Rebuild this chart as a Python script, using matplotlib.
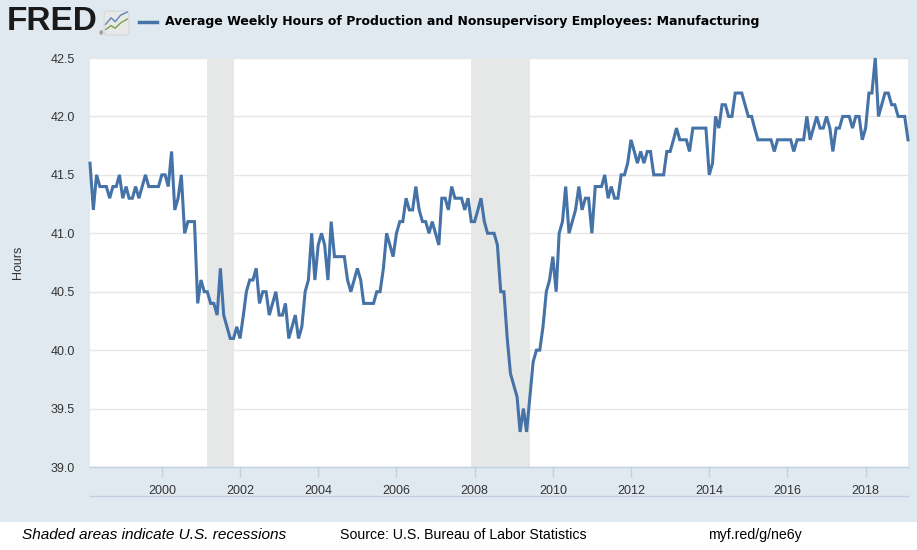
import numpy as np
import pandas as pd
import matplotlib.pyplot as plt
import matplotlib.dates as mdates
from matplotlib.patches import Rectangle, FancyBboxPatch

# Monthly data, Mar 1998 - Feb 2019 (hours)
start = '1998-03-01'
hours = [
    41.6, 41.2, 41.5, 41.4, 41.4, 41.4, 41.3, 41.4, 41.4, 41.5,              # 1998
    41.3, 41.4, 41.3, 41.3, 41.4, 41.3, 41.4, 41.5, 41.4, 41.4, 41.4, 41.4,  # 1999
    41.5, 41.5, 41.4, 41.7, 41.2, 41.3, 41.5, 41.0, 41.1, 41.1, 41.1, 40.4,  # 2000
    40.6, 40.5, 40.5, 40.4, 40.4, 40.3, 40.7, 40.3, 40.2, 40.1, 40.1, 40.2,  # 2001
    40.1, 40.3, 40.5, 40.6, 40.6, 40.7, 40.4, 40.5, 40.5, 40.3, 40.4, 40.5,  # 2002
    40.3, 40.3, 40.4, 40.1, 40.2, 40.3, 40.1, 40.2, 40.5, 40.6, 41.0, 40.6,  # 2003
    40.9, 41.0, 40.9, 40.6, 41.1, 40.8, 40.8, 40.8, 40.8, 40.6, 40.5, 40.6,  # 2004
    40.7, 40.6, 40.4, 40.4, 40.4, 40.4, 40.5, 40.5, 40.7, 41.0, 40.9, 40.8,  # 2005
    41.0, 41.1, 41.1, 41.3, 41.2, 41.2, 41.4, 41.2, 41.1, 41.1, 41.0, 41.1,  # 2006
    41.0, 40.9, 41.3, 41.3, 41.2, 41.4, 41.3, 41.3, 41.3, 41.2, 41.3, 41.1,  # 2007
    41.1, 41.2, 41.3, 41.1, 41.0, 41.0, 41.0, 40.9, 40.5, 40.5, 40.1, 39.8,  # 2008
    39.7, 39.6, 39.3, 39.5, 39.3, 39.6, 39.9, 40.0, 40.0, 40.2, 40.5, 40.6,  # 2009
    40.8, 40.5, 41.0, 41.1, 41.4, 41.0, 41.1, 41.2, 41.4, 41.2, 41.3, 41.3,  # 2010
    41.0, 41.4, 41.4, 41.4, 41.5, 41.3, 41.4, 41.3, 41.3, 41.5, 41.5, 41.6,  # 2011
    41.8, 41.7, 41.6, 41.7, 41.6, 41.7, 41.7, 41.5, 41.5, 41.5, 41.5, 41.7,  # 2012
    41.7, 41.8, 41.9, 41.8, 41.8, 41.8, 41.7, 41.9, 41.9, 41.9, 41.9, 41.9,  # 2013
    41.5, 41.6, 42.0, 41.9, 42.1, 42.1, 42.0, 42.0, 42.2, 42.2, 42.2, 42.1,  # 2014
    42.0, 42.0, 41.9, 41.8, 41.8, 41.8, 41.8, 41.8, 41.7, 41.8, 41.8, 41.8,  # 2015
    41.8, 41.8, 41.7, 41.8, 41.8, 41.8, 42.0, 41.8, 41.9, 42.0, 41.9, 41.9,  # 2016
    42.0, 41.9, 41.7, 41.9, 41.9, 42.0, 42.0, 42.0, 41.9, 42.0, 42.0, 41.8,  # 2017
    41.9, 42.2, 42.2, 42.5, 42.0, 42.1, 42.2, 42.2, 42.1, 42.1, 42.0, 42.0,  # 2018
    42.0, 41.8,                                                              # 2019
]
dates = pd.date_range(start, periods=len(hours), freq='MS')

recession_starts = ['2001-03-01', '2007-12-01']
recession_ends = ['2001-11-01', '2009-06-01']

yticks = [39.0, 39.5, 40.0, 40.5, 41.0, 41.5, 42.0, 42.5]
xtick_years = list(range(2000, 2019, 2))

title = 'Average Weekly Hours of Production and Nonsupervisory Employees: Manufacturing'
line_color = '#4572a7'
bg_color = '#e1e9f0'
sans = ['Liberation Sans', 'DejaVu Sans']

fig = plt.figure(figsize=(9.17, 5.5), dpi=100)
fig.patch.set_facecolor('white')

W, H = 917, 550
def fx(px):
    return px / W
def fy(py):
    return 1 - py / H

# blue-gray backdrop of the chart block
fig.add_artist(Rectangle((0, fy(522)), 1, 1 - fy(522), transform=fig.transFigure,
                         facecolor=bg_color, edgecolor='none', zorder=0))

ax = fig.add_axes([fx(90), fy(467), fx(908) - fx(90), fy(58) - fy(467)])
ax.set_facecolor('white')

for s, e in zip(recession_starts, recession_ends):
    ax.axvspan(pd.Timestamp(s), pd.Timestamp(e), color='#e6e7e7', lw=0, zorder=1)

ax.plot(dates, hours, color=line_color, lw=2.2, solid_joinstyle='miter',
        clip_on=False, zorder=3)

ax.set_xlim(dates[0], dates[-1])
ax.set_ylim(39.0, 42.5)
ax.set_yticks(yticks)
ax.set_yticklabels([f'{v:.1f}' for v in yticks])
ax.set_xticks([pd.Timestamp(f'{y}-01-01') for y in xtick_years])
ax.xaxis.set_major_formatter(mdates.DateFormatter('%Y'))
ax.grid(axis='y', color='#e6e6e6', lw=1, zorder=0)
ax.set_axisbelow(True)

for side in ['top', 'left', 'right']:
    ax.spines[side].set_visible(False)
ax.spines['bottom'].set_color('#c0d0e0')
ax.spines['bottom'].set_linewidth(1)

ax.tick_params(axis='y', length=0, pad=11, labelsize=9, labelcolor='#333333')
ax.tick_params(axis='x', length=7, width=1, color='#c0d0e0', pad=6,
               labelsize=9, labelcolor='#333333')
for lab in ax.get_xticklabels() + ax.get_yticklabels():
    lab.set_family(sans)

fig.text(fx(18), fy(262), 'Hours', rotation=90, ha='center', va='center',
         fontsize=9, color='#333333', family=sans)

# line under the axis block
fig.add_artist(plt.Line2D([fx(90), fx(908)], [fy(496), fy(496)], transform=fig.transFigure,
                          color='#c0d0e0', lw=1))

# header: FRED logo, icon and legend
fig.text(fx(7), fy(22), 'FRED', ha='left', va='center', fontsize=24, fontweight='bold',
         color='#1a1a1a', family=sans)
fig.text(fx(98), fy(34), '®', ha='left', va='center', fontsize=3.5, color='#1a1a1a')

icon = fig.add_axes([fx(103), fy(36), fx(27), 26 / H])
icon.set_xlim(0, 1)
icon.set_ylim(0, 1)
icon.axis('off')
icon.add_patch(FancyBboxPatch((0.04, 0.04), 0.92, 0.92, boxstyle='round,pad=0,rounding_size=0.12',
                              facecolor='#e8e8e8', edgecolor='#d0d0d0', lw=0.6))
icon.plot([0.1, 0.3, 0.45, 0.65, 0.9], [0.45, 0.7, 0.55, 0.8, 0.92], color='#5b87b5', lw=1)
icon.plot([0.1, 0.3, 0.45, 0.65, 0.9], [0.25, 0.4, 0.3, 0.5, 0.65], color='#7aa34a', lw=1)

fig.add_artist(plt.Line2D([fx(139), fx(157)], [fy(22), fy(22)], transform=fig.transFigure,
                          color=line_color, lw=2.5))
fig.text(fx(165), fy(22), title, ha='left', va='center', fontsize=9.0, fontweight='bold',
         color='#000000', family='DejaVu Sans')

# footer
fig.text(fx(22), fy(535), 'Shaded areas indicate U.S. recessions', ha='left', va='center',
         fontsize=11.1, style='italic', family=sans)
fig.text(fx(340), fy(535), 'Source: U.S. Bureau of Labor Statistics', ha='left', va='center',
         fontsize=10.2, family=sans)
fig.text(fx(708), fy(535), 'myf.red/g/ne6y', ha='left', va='center', fontsize=10.2, family=sans)

fig.savefig('out.png', dpi=100)
